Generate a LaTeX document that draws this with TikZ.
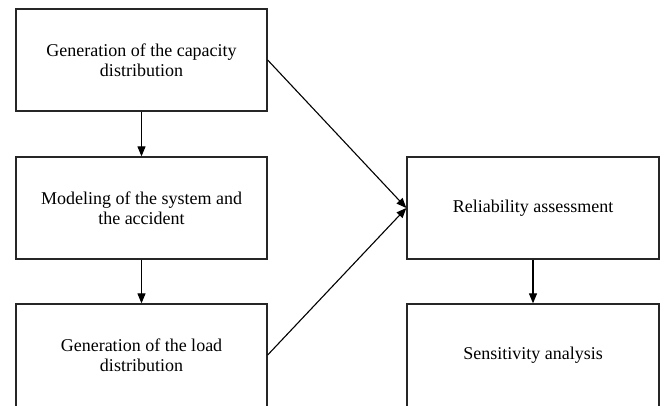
\documentclass[tikz,border=0pt]{standalone}
\usepackage{fontspec}
\setmainfont{Liberation Serif}
\usetikzlibrary{arrows.meta}
\begin{document}
\begin{tikzpicture}[x=1pt,y=-1pt,
  box/.style={draw=black!85,line width=1.3pt,minimum width=251pt,minimum height=102pt,
    align=center,font=\fontsize{18}{20.5}\selectfont,inner sep=0pt},
  lbl/.style={align=center,font=\fontsize{18}{20.5}\selectfont,inner sep=0pt},
  conn/.style={line width=1.1pt,-{Triangle[length=10pt,width=8pt]}}]
\useasboundingbox (0,0) rectangle (669,405);
\node[box] (cap) at (141.5,60) {Generation of the capacity\\distribution};
\node[box] (mod) at (141.5,208) {Modeling of the system and\\the accident};
\node[box,minimum height=108pt] (load) at (141.5,358) {};
\node[lbl] (loadt) at (141.5,355) {Generation of the load\\distribution};
\node[box,minimum width=252pt] (rel) at (533,208) {Reliability assessment};
\node[box,minimum width=252pt,minimum height=108pt] (sens) at (533,358) {};
\node[lbl] (senst) at (533,355) {Sensitivity analysis};
\draw[conn] (cap) -- (mod);
\draw[conn] (mod) -- (load);
\draw[conn] (rel) -- (sens);
\draw[conn] (cap.east) -- (rel.west);
\draw[conn] (load.east |- loadt) -- (rel.west);
\end{tikzpicture}
\end{document}
